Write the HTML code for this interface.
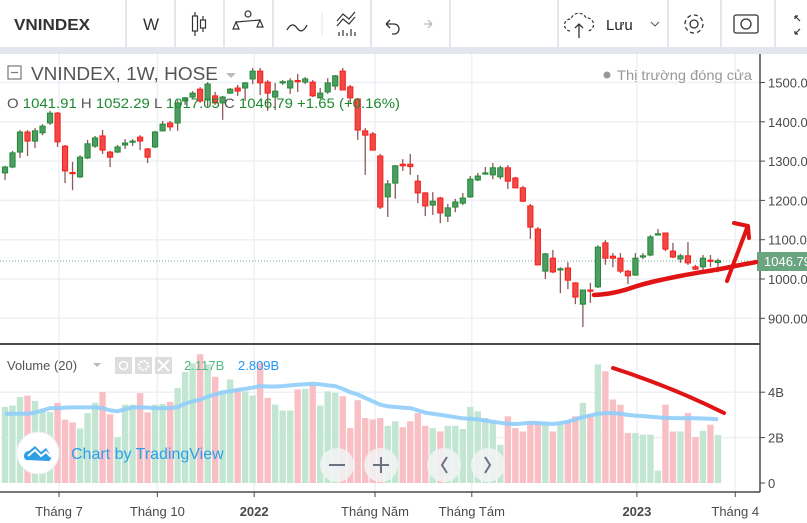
<!DOCTYPE html>
<html><head><meta charset="utf-8"><style>
html,body{margin:0;padding:0;background:#fff;}
svg{display:block;font-family:"Liberation Sans","Noto Sans CJK JP",sans-serif;}
</style></head><body>
<svg id="chart" width="807" height="523" viewBox="0 0 807 523">
<rect x="0" y="0" width="807" height="523" fill="#ffffff"/>
<g>
<rect x="0" y="0" width="807" height="47" fill="#ffffff"/>
<rect x="0" y="47" width="807" height="7" fill="#e3e6ec"/>
<g stroke="#e3e6ec" stroke-width="2">
<line x1="126" y1="0" x2="126" y2="47"/><line x1="175" y1="0" x2="175" y2="47"/><line x1="224" y1="0" x2="224" y2="47"/><line x1="273" y1="0" x2="273" y2="47"/><line x1="371" y1="0" x2="371" y2="47"/><line x1="450" y1="0" x2="450" y2="47"/><line x1="558" y1="0" x2="558" y2="47"/><line x1="668" y1="0" x2="668" y2="47"/><line x1="721" y1="0" x2="721" y2="47"/><line x1="775" y1="0" x2="775" y2="47"/>
</g>
<line x1="322" y1="12" x2="322" y2="36" stroke="#e3e6ec" stroke-width="1"/>
<text x="14" y="30" font-size="16" font-weight="bold" fill="#333" textLength="76" lengthAdjust="spacingAndGlyphs">VNINDEX</text>
<text x="143" y="30" font-size="17" fill="#333">W</text>
<g stroke="#333" fill="none" stroke-width="1.2"><line x1="195" y1="12" x2="195" y2="36"/><rect x="192.5" y="16" width="5" height="15" fill="#fff"/><line x1="203" y1="16" x2="203" y2="32"/><rect x="200.5" y="20" width="5" height="8" fill="#fff"/></g>
<g stroke="#333" fill="none" stroke-width="1.2"><circle cx="248" cy="14" r="3"/><line x1="236" y1="22" x2="260" y2="20"/><path d="M236 22 l-3 7 h6 z M260 20 l-3 7 h6 z"/></g>
<path d="M287 30 q5 -9 10 -2 q5 7 10 -3" stroke="#333" fill="none" stroke-width="1.3"/>
<g stroke="#333" fill="none" stroke-width="1.2"><path d="M337 21 l6 -7 6 5 6 -7"/><path d="M337 26 l6 -7 6 5 6 -7"/><path d="M339 36 v-4 M343 36 v-6 M347 36 v-3 M351 36 v-7 M355 36 v-4"/></g>
<path d="M386 24 h8 a5 5 0 0 1 0 10 h-2 M386 24 l4 -4 M386 24 l4 4" stroke="#333" fill="none" stroke-width="1.3"/>
<path d="M432 24 h-8 M432 24 l-4 -4 M432 24 l-4 4" stroke="#bbb" fill="none" stroke-width="1.3"/>
<g><path d="M570 31 a6 6 0 0 1 1 -12 a8 8 0 0 1 15 -1 a6 6 0 0 1 2 13" stroke="#333" fill="none" stroke-width="1.2" stroke-dasharray="3 2"/><path d="M579 38 v-14 M575 28 l4 -4 4 4" stroke="#333" fill="none" stroke-width="1.3"/>
<text x="606" y="30" font-size="15" fill="#222">Lưu</text><path d="M651 22 l4 4 4 -4" stroke="#555" fill="none" stroke-width="1"/></g>
<g><circle cx="694" cy="24" r="4" stroke="#333" fill="none" stroke-width="1.3"/><circle cx="694" cy="24" r="9" stroke="#333" fill="none" stroke-width="1.3" stroke-dasharray="4 3"/></g>
<g><rect x="734" y="15" width="24" height="18" rx="2" stroke="#333" fill="none" stroke-width="1.3"/><circle cx="746" cy="24" r="5" stroke="#333" fill="none" stroke-width="1.3"/></g>
<path d="M795 16 l5 5 M795 16 h3 M795 16 v3 M795 34 l5 -5 M795 34 h3 M795 34 v-3" stroke="#333" fill="none" stroke-width="1.2"/>
</g>
<g id="grid"></g>
<line x1="0" y1="261" x2="760" y2="261" stroke="#6fa884" stroke-width="1" stroke-dasharray="1 2"/>
<g id="volume"></g>
<path id="maLine" fill="none" stroke="#90cdf9" stroke-width="4" stroke-linejoin="round" stroke-opacity="0.9"/>
<g id="candles"></g>
<line x1="0" y1="344" x2="760" y2="344" stroke="#4a4a4a" stroke-width="2"/>
<line x1="760" y1="54" x2="760" y2="492" stroke="#4a4a4a" stroke-width="1.5"/>
<line x1="0" y1="492" x2="760" y2="492" stroke="#4a4a4a" stroke-width="1.5"/>
<g id="axes"></g>
<rect x="757" y="252" width="50" height="19" fill="#6aa57f"/>
<text x="764" y="266" font-size="13" fill="#fff">1046.79</text>
<g>
<rect x="8" y="66" width="13" height="13" fill="none" stroke="#777" stroke-width="1.2"/>
<line x1="11" y1="72.5" x2="18" y2="72.5" stroke="#777" stroke-width="1.2"/>
<text x="31" y="80" font-size="18" fill="#555" textLength="187" lengthAdjust="spacingAndGlyphs">VNINDEX, 1W, HOSE</text>
<path d="M226 73 l5 5 5 -5 z" fill="#bbb"/>
<text x="7" y="108" font-size="14" fill="#555" textLength="393" lengthAdjust="spacingAndGlyphs">O <tspan fill="#1b8a2e">1041.91</tspan>  H <tspan fill="#1b8a2e">1052.29</tspan>  L <tspan fill="#1b8a2e">1017.05</tspan>  C <tspan fill="#1b8a2e">1046.79</tspan>   <tspan fill="#1b8a2e">+1.65 (+0.16%)</tspan></text>
<circle cx="607" cy="75" r="3.5" fill="#999"/>
<text x="617" y="80" font-size="14" fill="#999" textLength="135" lengthAdjust="spacingAndGlyphs">Thị trường đóng cửa</text>
</g>
<g>
<text x="7" y="370" font-size="13" fill="#555">Volume (20)</text>
<path d="M93 363 l4 4 4 -4 z" fill="#bbb"/>
<rect x="115" y="357" width="17" height="17" fill="#ddd"/>
<circle cx="123.5" cy="365.5" r="4" fill="none" stroke="#fff" stroke-width="1.5"/>
<rect x="135" y="357" width="17" height="17" fill="#ddd"/>
<circle cx="143.5" cy="365.5" r="4.5" fill="none" stroke="#fff" stroke-width="2.5" stroke-dasharray="2 1.5"/>
<rect x="155" y="357" width="17" height="17" fill="#ddd"/>
<path d="M158 360 l11 11 M169 360 l-11 11" stroke="#fff" stroke-width="2"/>
<text x="184" y="370" font-size="13" fill="#53b987">2.117B</text>
<text x="238" y="370" font-size="13" fill="#2196f3">2.809B</text>
</g>
<g>
<circle cx="38" cy="453" r="21" fill="#fff" stroke="#eee"/>
<path d="M26 460 a5 5 0 0 1 3 -9 l6 -5 6 6 5 -4 5 8 a4 4 0 0 1 -2 5 z" fill="#2e9ee8"/>
<path d="M28 456 l7 -6 6 6 5 -4 5 5" stroke="#fff" stroke-width="2" fill="none"/>
<text x="71" y="459" font-size="16" fill="#2e9ee8">Chart by TradingView</text>
</g>
<g><circle cx="337" cy="465" r="17" fill="#f2f3f5" fill-opacity="0.85"/><line x1="329" y1="465" x2="345" y2="465" stroke="#6b7280" stroke-width="2"/></g>
<g><circle cx="381" cy="465" r="17" fill="#f2f3f5" fill-opacity="0.85"/><path d="M373 465 h16 M381 457 v16" stroke="#6b7280" stroke-width="2"/></g>
<g><circle cx="444" cy="465" r="17" fill="#f2f3f5" fill-opacity="0.85"/><path d="M447 457 l-5 8 5 8" stroke="#6b7280" stroke-width="2" fill="none"/></g>
<g><circle cx="488" cy="465" r="17" fill="#f2f3f5" fill-opacity="0.85"/><path d="M485 457 l5 8 -5 8" stroke="#6b7280" stroke-width="2" fill="none"/></g>
<g stroke="#e01414" fill="none" stroke-linecap="round" stroke-linejoin="round">
<path d="M594 295 C610 294 618 292 628 289 C645 283 660 280 680 276 C700 272 718 270 735 266 C745 264 752 263 756 262" stroke-width="4.5"/>
<path d="M727 281 L747 228 M734 223 L748 226 L749 238" stroke-width="4"/>
<path d="M613 368 C650 380 690 396 724 413" stroke-width="4"/>
</g>
<script>
const priceOpen=[1270,1285,1323,1374,1351,1372,1397,1422,1338,1271,1260,1308,1338,1364,1323,1323,1341,1349,1361,1331,1336,1377,1397,1397,
1453,1463,1483,1456,1466,1448,1473,1486,1486,1509,1529,1501,1463,1500,1486,1505,1501,1501,1461,1476,1491,1529,1489,1458,1377,1369,1313,1209,1244,
1292,1292,1249,1219,1188,1206,1160,1183,1193,1209,1252,1268,1265,1260,1283,1257,1232,1186,1127,1020,1053,1024,1028,990,
936,972,980,1092,1058,1053,1020,1010,1057,1061,1113,1117,1071,1051,1059,1031,1031,1048,1041.91];
const priceHigh=[1288,1326,1379,1379,1384,1394,1428,1425,1341,1298,1315,1354,1364,1379,1326,1341,1356,1356,1366,1333,1377,1402,1402,1455,
1463,1478,1488,1501,1476,1466,1486,1494,1501,1537,1537,1506,1499,1506,1511,1522,1514,1506,1486,1511,1519,1537,1494,1461,1384,1374,1318,1252,1290,
1305,1318,1265,1221,1221,1209,1191,1204,1219,1262,1270,1285,1295,1288,1290,1260,1237,1191,1132,1066,1074,1030,1043,992,
972,990,1086,1099,1066,1066,1023,1066,1066,1112,1127,1117,1092,1064,1094,1036,1061,1061,1052.29];
const priceLow=[1252,1282,1308,1313,1333,1366,1392,1336,1244,1226,1257,1305,1334,1318,1285,1321,1331,1338,1328,1295,1333,1375,1377,1377,
1443,1458,1448,1438,1443,1405,1471,1466,1453,1496,1468,1428,1430,1494,1471,1476,1496,1463,1458,1471,1481,1481,1448,1354,1265,1328,1178,1158,1204,
1275,1265,1193,1160,1163,1142,1145,1170,1188,1206,1249,1265,1254,1254,1229,1232,1196,1102,1036,1000,1015,964,974,936,
878,939,977,1036,1030,1015,987,1008,1051,1058,1112,1071,1053,1041,1036,1023,1023,1031,1017.05];
const priceClose=[1285,1321,1374,1351,1377,1389,1422,1349,1275,1269,1310,1344,1359,1328,1310,1336,1346,1351,1351,1310,1374,1394,1387,1448,
1461,1473,1453,1496,1448,1463,1483,1478,1499,1529,1499,1473,1478,1502,1504,1503,1509,1466,1473,1499,1517,1481,1461,1379,1366,1328,1183,1242,1288,
1288,1286,1219,1186,1198,1168,1181,1196,1206,1254,1262,1270,1283,1283,1249,1232,1198,1132,1036,1064,1018,1026,997,954,
972,969,1081,1053,1053,1020,1008,1053,1059,1107,1115,1076,1056,1059,1041,1025,1053,1046,1046.79];
const volumeB=[3.35,3.41,3.79,3.85,3.62,3.16,3.13,3.53,2.79,2.67,2.41,3.08,3.53,4.01,3.03,2.02,3.45,3.45,3.96,3.11,3.45,3.48,3.57,4.18,
4.89,5.27,5.67,5.22,4.68,3.97,4.56,4.12,4.04,3.85,5.30,3.75,3.45,3.19,3.19,4.12,4.15,4.30,3.41,4.04,3.97,3.82,2.42,3.65,2.86,2.8,
2.86,2.52,2.72,2.46,2.72,3.08,2.52,2.42,2.27,2.52,2.52,2.38,3.35,3.16,2.86,2.76,1.68,2.94,2.42,2.27,2.67,2.72,2.57,2.27,2.57,2.75,2.94,3.53,3.01,
5.22,4.92,3.68,3.45,2.20,2.20,2.13,2.13,0.55,3.45,2.27,2.27,3.08,2.02,2.30,2.57,2.117];
const volumeMA=[3.05,3.05,3.05,3.05,3.1,3.2,3.3,3.3,3.32,3.33,3.33,3.33,3.33,3.3,3.2,3.16,3.25,3.33,3.33,3.32,3.3,3.3,3.3,3.35,
3.5,3.6,3.67,3.8,3.9,4.0,4.04,4.1,4.15,4.2,4.27,4.25,4.25,4.27,4.3,4.33,4.35,4.37,4.35,4.3,4.27,4.15,4.0,3.9,3.75,3.6,3.45,
3.38,3.35,3.32,3.3,3.2,3.1,3.05,3.0,2.95,2.9,2.85,2.83,2.8,2.75,2.7,2.65,2.61,2.6,2.62,2.65,2.64,2.62,2.6,2.64,2.7,
2.8,2.9,2.98,3.05,3.08,3.08,3.05,3.0,2.97,2.95,2.92,2.89,2.87,2.86,2.86,2.85,2.85,2.84,2.83,2.8];
const priceTicks=[1500,1400,1300,1200,1100,1000,900];
const priceTickLabels=["1500.00","1400.00","1300.00","1200.00","1100.00","1000.00","900.00"];
const volumeTicks=[4,2,0];
const volumeTickLabels=["4B","2B","0"];
const timeTickIndex=[7.2,20.3,33.2,49.3,62.2,84.2,97.3];
const timeTickLabels=["Tháng 7","Tháng 10","2022","Tháng Năm","Tháng Tám","2023","Tháng 4"];
const timeTickBold=[false,false,true,false,false,true,false];

const NS="http://www.w3.org/2000/svg";
function xAt(i){return 5+i*7.505;}
function yPrice(p){return 279-(p-1000)*0.393;}
function yVol(v){return 483-v*22.7;}
function mk(tag,attrs,parent){const e=document.createElementNS(NS,tag);for(const k in attrs)e.setAttribute(k,attrs[k]);parent.appendChild(e);return e;}

const grid=document.getElementById('grid');
priceTicks.forEach(p=>{const l=mk('line',{x1:0,x2:760,y1:yPrice(p),y2:yPrice(p),stroke:'#edf0f4','stroke-width':1.5},grid);

});
volumeTicks.forEach(v=>{if(v===0)return;const l=mk('line',{x1:0,x2:760,y1:yVol(v),y2:yVol(v),stroke:'#edf0f4','stroke-width':1.5},grid);

});
timeTickIndex.forEach(t=>{const l=mk('line',{x1:xAt(t),x2:xAt(t),y1:54,y2:492,stroke:'#edf0f4','stroke-width':1.5},grid);

});

const vg=document.getElementById('volume');
volumeB.forEach((v,i)=>{const up=priceClose[i]>=priceOpen[i];
const r=mk('rect',{x:xAt(i)-3.2,y:yVol(v),width:6.4,height:483-yVol(v),fill:up?'#c2e6d2':'#f8c0c5'},vg);

});
document.getElementById('maLine').setAttribute('d',volumeMA.map((v,i)=>(i?'L':'M')+xAt(i).toFixed(1)+' '+yVol(v).toFixed(1)).join(' '));

const cg=document.getElementById('candles');
priceOpen.forEach((o,i)=>{const c=priceClose[i],up=c>=o,x=xAt(i);
const w=mk('line',{x1:x,x2:x,y1:yPrice(priceHigh[i]),y2:yPrice(priceLow[i]),stroke:'#8c5a5a','stroke-width':1.3},cg);


const top=yPrice(Math.max(o,c)),bot=yPrice(Math.min(o,c));
const b=mk('rect',{x:x-2.6,y:top,width:5.2,height:Math.max(bot-top,1.2),fill:up?'#4e9c63':'#ec4b47',stroke:up?'#1f8c34':'#ff1a1a','stroke-width':1},cg);

});

const ax=document.getElementById('axes');
priceTicks.forEach((p,k)=>{const y=yPrice(p);mk('line',{x1:760,x2:765,y1:y,y2:y,stroke:'#4a4a4a'},ax);
const t=mk('text',{x:768,y:y+5,'font-size':13,fill:'#4a4a4a'},ax);t.textContent=priceTickLabels[k];

});
volumeTicks.forEach((v,k)=>{const y=yVol(v);mk('line',{x1:760,x2:765,y1:y,y2:y,stroke:'#4a4a4a'},ax);
const t=mk('text',{x:768,y:y+5,'font-size':13,fill:'#4a4a4a'},ax);t.textContent=volumeTickLabels[k];

});
timeTickIndex.forEach((ti,k)=>{const x=xAt(ti);mk('line',{x1:x,x2:x,y1:492,y2:497,stroke:'#4a4a4a'},ax);
const t=mk('text',{x:x,y:516,'font-size':13,fill:'#4a4a4a','text-anchor':'middle','font-weight':timeTickBold[k]?'bold':'normal'},ax);t.textContent=timeTickLabels[k];

});
</script>
</svg>
</body></html>
